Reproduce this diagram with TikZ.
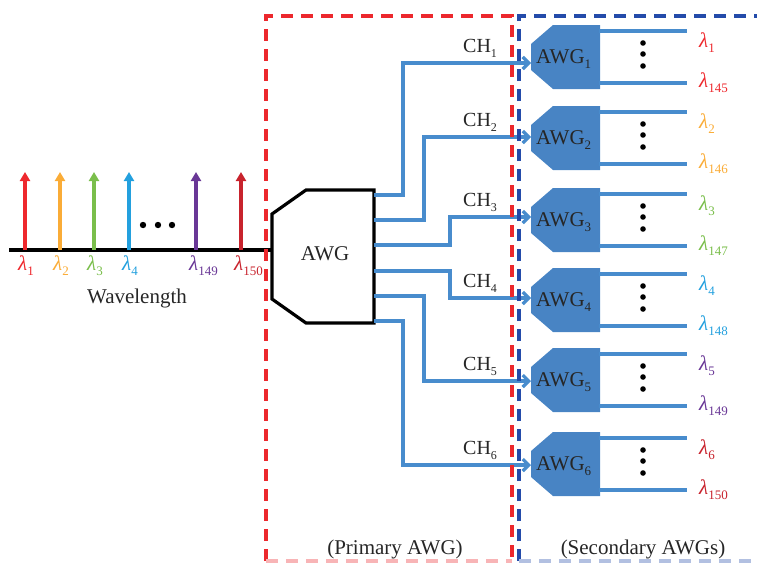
\documentclass[tikz,border=0pt]{standalone}
\usepackage{fontspec}
\setmainfont{Liberation Serif}
\usepackage{xcolor}
\usetikzlibrary{arrows.meta}
\definecolor{lred}{RGB}{238,40,45}
\definecolor{lorange}{RGB}{250,172,55}
\definecolor{lgreen}{RGB}{122,190,75}
\definecolor{lblue}{RGB}{35,160,222}
\definecolor{lpurple}{RGB}{105,55,150}
\definecolor{ldred}{RGB}{200,35,45}
\definecolor{chanblue}{RGB}{72,140,205}
\definecolor{awgfill}{RGB}{72,132,196}
\definecolor{boxred}{RGB}{236,40,45}
\definecolor{boxblue}{RGB}{35,75,170}
\newcommand{\sub}[1]{\raisebox{-5pt}{\fontsize{13}{13}\selectfont #1}}
\newcommand{\lam}[1]{\textit{λ}\sub{#1}}

\begin{document}
\begin{tikzpicture}[x=1pt,y=-1pt,
  txt/.style={inner sep=0pt,text=black!85,font=\fontsize{21}{25}\selectfont},
  spec/.style={line width=3.6pt,-{Triangle[length=9pt,width=10pt]}},
  chan/.style={chanblue,line width=3.2pt,-{Straight Barb[length=6pt,width=12pt]}},
  outl/.style={chanblue,line width=3.2pt},
  rbox/.style={boxred,line width=3.6pt,dash pattern=on 12pt off 8pt},
  bbox/.style={boxblue,line width=3.6pt,dash pattern=on 12pt off 8pt}]
  \useasboundingbox (0,0) rectangle (757,563);
  % spectrum
  \coordinate (ax0) at (9,250); \coordinate (ax1) at (272,250);
  \draw[line width=3.2pt] (ax0) -- (ax1);
  \foreach \x/\c/\n in {25/lred/1,60/lorange/2,94/lgreen/3,129/lblue/4,196/lpurple/149,241/ldred/150} {
    \coordinate (b\n) at (\x,250); \coordinate (t\n) at (\x,172);
    \draw[spec,\c] (b\n) -- (t\n);
    \node[txt,text=\c,anchor=base west] (l\n) at ({\x-7},270) {\lam{\n}};
  }
  \foreach \x in {143,158,172} { \fill (\x,225) circle (3.2pt); }
  \node[txt,anchor=base] (wl) at (137,303) {Wavelength};
  % primary AWG
  \draw[line width=3.2pt,line join=miter] (306,190) -- (374,190) -- (374,323) -- (306,323) -- (272,299) -- (272,214) -- cycle;
  \node[txt,anchor=base] (pawg) at (325,260) {AWG};
  % secondary AWGs
  \foreach \t/\ya/\i/\c/\m in {25/63/1/lred/145,106/137/2/lorange/146,188/217/3/lgreen/147,268/298/4/lblue/148,348/381/5/lpurple/149,432/465/6/ldred/150} {
    \fill[awgfill] (553,\t) -- (600,\t) -- (600,{\t+64}) -- (553,{\t+64}) -- (531,{\t+45}) -- (531,{\t+19}) -- cycle;
    \node[txt,anchor=base west] (s\i) at (536,{\t+38}) {AWG\sub{\i}};
    \coordinate (in\i) at (531,\ya);
    \coordinate (u\i) at (599,{\t+6}); \coordinate (ue\i) at (687,{\t+6});
    \coordinate (d\i) at (599,{\t+58}); \coordinate (de\i) at (687,{\t+58});
    \draw[outl] (u\i) -- (ue\i);
    \draw[outl] (d\i) -- (de\i);
    \foreach \k in {18,29,41} { \fill (643,{\t+\k}) circle (2.8pt); }
    \node[txt,text=\c,anchor=base west] (lu\i) at (699,{\t+22}) {\lam{\i}};
    \node[txt,text=\c,anchor=base west] (ld\i) at (699,{\t+62}) {\lam{\m}};
  }
  % channels
  \foreach \i/\yo/\dx/\ya in {1/195/29/63,2/220/50/137,3/245/76/217,4/271/76/298,5/296/50/381,6/321/29/465} {
    \coordinate (o\i) at (374,\yo);
    \draw[chan] (o\i) -- ++(\dx,0) |- (in\i);
    \node[txt,anchor=base west,font=\fontsize{20}{23}\selectfont] (ch\i) at (463,{\ya-11}) {CH\raisebox{-5pt}{\fontsize{12}{12}\selectfont\i}};
  }
  % boxes
  \draw[rbox] (266,561) -- (266,16) -- (512,16) -- (512,561);
  \draw[rbox,boxred!35] (266,561) -- (512,561);
  \draw[bbox] (519,561) -- (519,16) -- (757,16);
  \draw[bbox,boxblue!35] (519,561) -- (757,561);
  \node[txt,anchor=base] (prim) at (395,554) {(Primary AWG)};
  \node[txt,anchor=base] (sec) at (643,554) {(Secondary AWGs)};
\end{tikzpicture}
\end{document}
